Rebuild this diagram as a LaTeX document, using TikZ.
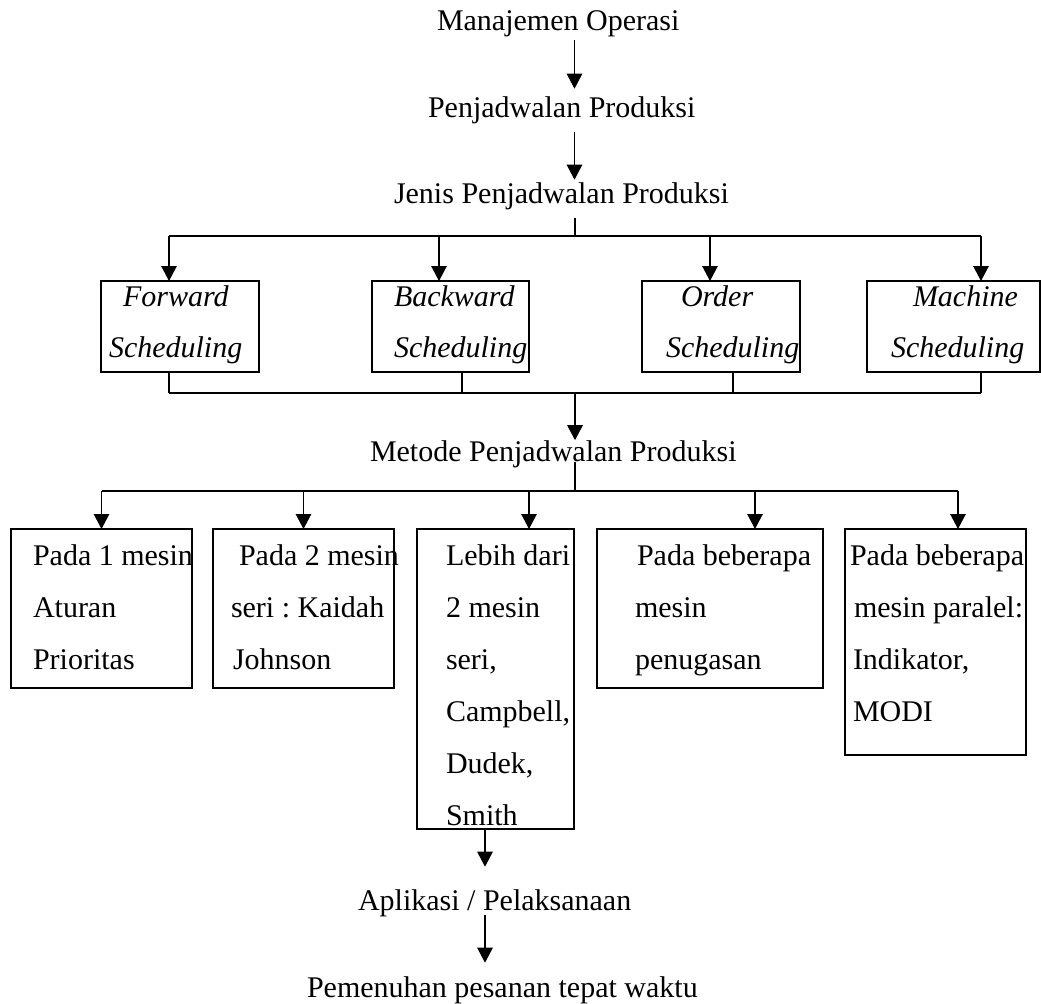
\documentclass[tikz,border=0pt]{standalone}
\usepackage{fontspec}
\setmainfont{Liberation Serif}
\usetikzlibrary{arrows.meta}
\frenchspacing

\begin{document}
\begin{tikzpicture}[x=0.4pt, y=-0.4pt, line width=0.5pt,
    every node/.style={font=\fontsize{12}{20.8}\selectfont, inner sep=0pt, outer sep=0pt},
    t/.style={anchor=base west, align=left},
    it/.style={t, font=\fontsize{12}{20.4}\selectfont\itshape},
    sb/.style={draw, minimum width=#1, minimum height=36.4pt},
    mb/.style n args={2}{draw, minimum width=#1, minimum height=#2},
    arr/.style={-{Triangle[width=6.2pt,length=6pt]}}]
\useasboundingbox (0,0) rectangle (1041,1003);

% titles
\node[t] (mo) at (437,30) {Manajemen Operasi};
\node[t] (pp) at (428,117) {Penjadwalan Produksi};
\node[t] (jp) at (394,203) {Jenis Penjadwalan Produksi};
\node[t] (mp) at (370,461) {Metode Penjadwalan Produksi};
\node[t] (ap) at (358,910) {Aplikasi / Pelaksanaan};
\node[t] (pt) at (307,997) {Pemenuhan pesanan tepat waktu};

% jenis (base = last line)
\node[sb=63.2pt] (fs) at (180,326.5) {};
\node[sb=62.8pt] (bs) at (450.5,326.5) {};
\node[sb=63.2pt] (os) at (721,326.5) {};
\node[sb=69.2pt] (ms) at (953.5,326.5) {};
\node[it] (fst) at (109,357) {\hspace*{5.6pt}Forward\\Scheduling};
\node[it] (bst) at (394,357) {Backward\\Scheduling};
\node[it] (ost) at (666,357) {\hspace*{6pt}Order\\Scheduling};
\node[it] (mst) at (891,357) {\hspace*{8.8pt}Machine\\Scheduling};

% metode
\node[mb={72.4pt}{63.6pt}] (b1) at (101.5,608.5) {};
\node[mb={72.4pt}{63.6pt}] (b2) at (303.5,608.5) {};
\node[mb={62.8pt}{120pt}] (b3) at (495.5,679) {};
\node[mb={90.4pt}{63.6pt}] (b4) at (710,608.5) {};
\node[mb={72.4pt}{90.4pt}] (b5) at (935.5,642) {};
\node[t] (b1t) at (33,669) {Pada 1 mesin\\Aturan\\Prioritas};
\node[t] (b2t) at (231,669) {\hspace*{3.2pt}Pada 2 mesin\\seri : Kaidah\\\hspace*{0.8pt}Johnson};
\node[t] (b3t) at (446,825) {Lebih dari\\2 mesin\\seri,\\Campbell,\\Dudek,\\Smith};
\node[t] (b4t) at (635,669) {\hspace*{0.8pt}Pada beberapa\\mesin\\penugasan};
\node[t] (b5t) at (850,721) {Pada beberapa\\\hspace*{1.6pt}mesin paralel:\\\hspace*{1.2pt}Indikator,\\\hspace*{1.2pt}MODI};

\coordinate (sp) at (574.5,0);
\draw[arr] ([yshift=-1.4pt]mo.south -| sp) -- ([yshift=3pt]pp.north -| sp);
\draw[arr] ([yshift=-3.4pt]pp.south -| sp) -- ([yshift=1pt]jp.north -| sp);

\coordinate (j1) at (575,236);
\draw ([yshift=-3.4pt]jp.south -| j1) -- (j1);
\draw ([xshift=-4.4pt]fs.north |- j1) -- ([xshift=11pt]ms.north |- j1);
\foreach \n/\dx in {fs/-4.4pt, bs/-4.6pt, os/-4.4pt, ms/11pt}
  \draw[arr] ([xshift=\dx]\n.north |- j1) -- ([xshift=\dx]\n.north);

\coordinate (j2) at (575,393);
\foreach \n/\dx in {fs/-4.4pt, bs/4.6pt, os/4.8pt, ms/11pt}
  \draw ([xshift=\dx]\n.south) -- ([xshift=\dx]\n.south |- j2);
\draw ([xshift=-4.4pt]fs.south |- j2) -- ([xshift=11pt]ms.south |- j2);
\draw[arr] (j2) -- (mp.north -| j2);

\coordinate (j3) at (575,491);
\draw ([yshift=2.2pt]mp.south -| j3) -- (j3);
\draw (b1.north |- j3) -- ([xshift=9pt]b5.north |- j3);
\foreach \n/\dx in {b1/0pt, b2/0pt, b3/13.4pt, b4/18pt, b5/9pt}
  \draw[arr] ([xshift=\dx]\n.north |- j3) -- ([xshift=\dx]\n.north);

\draw[arr] ([xshift=-4.2pt]b3.south) -- ([xshift=-4.2pt, yshift=9pt]b3.south |- ap.north);
\draw[arr] ([xshift=-4.2pt, yshift=0.6pt]b3.south |- ap.south) -- ([xshift=-4.2pt, yshift=5.4pt]b3.south |- pt.north);
\end{tikzpicture}
\end{document}
